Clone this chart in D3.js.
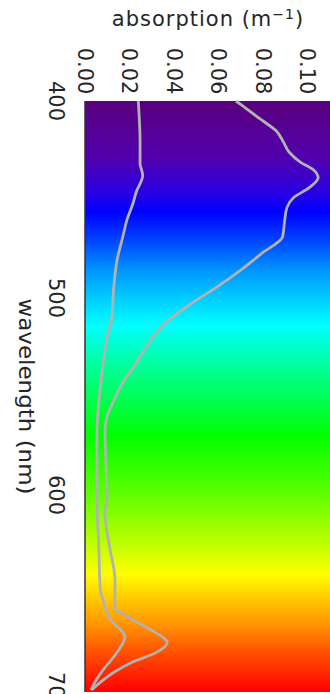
<!DOCTYPE html>
<html>
<head>
<meta charset="utf-8">
<script src="https://cdn.jsdelivr.net/npm/d3@7"></script>
<style>
  html, body { margin: 0; padding: 0; background: #fff; }
  svg { display: block; }
  .lbl { font-family: "DejaVu Sans", sans-serif; font-size: 21px; fill: #262626; }
</style>
</head>
<body>
<div id="chart"></div>
<script>
// wavelength (nm), absorption (m^-1)
const upperWl = [400, 405, 410, 415, 420, 426, 431, 435, 439, 444, 449, 454, 460, 469, 477, 486, 494, 502, 511, 518, 526, 535, 543, 552, 560, 568, 586, 602, 609, 626, 643, 657, 663, 668, 675, 680, 685, 690, 695, 699];
const upperAbs = [0.068, 0.074, 0.080, 0.086, 0.089, 0.092, 0.097, 0.103, 0.105, 0.101, 0.094, 0.091, 0.090, 0.089, 0.080, 0.070, 0.060, 0.049, 0.038, 0.032, 0.027, 0.022, 0.017, 0.013, 0.010, 0.009, 0.0095, 0.0099, 0.009, 0.011, 0.0135, 0.0135, 0.021, 0.029, 0.037, 0.032, 0.021, 0.013, 0.007, 0.003];

const lowerWl = [400, 410, 420, 432, 435, 438, 441, 445, 452, 460, 469, 481, 494, 511, 518, 535, 552, 568, 602, 629, 647, 655, 663, 672, 680, 689, 695, 699];
const lowerAbs = [0.024, 0.0245, 0.0248, 0.0248, 0.0255, 0.026, 0.0252, 0.0235, 0.0216, 0.019, 0.017, 0.0144, 0.013, 0.012, 0.0104, 0.008, 0.0063, 0.0054, 0.0054, 0.0063, 0.0068, 0.0086, 0.0113, 0.018, 0.0144, 0.008, 0.0045, 0.0027];

const wlTicks = [400, 500, 600, 700];
const absTicks = [0.00, 0.02, 0.04, 0.06, 0.08, 0.10];

// spectrum colours behind the plot
const specWl = [400, 430, 448, 456, 470, 485, 500, 514, 530, 548, 570, 600, 625, 640, 655, 665, 680, 700];
const specCol = ['#5a007c', '#5000b0', '#2400e8', '#0000ff', '#0040ff', '#0090ff', '#00ccff', '#00ffff', '#00ffb0', '#00ff60', '#00ff00', '#60ff00', '#c0ff00', '#ffff00', '#ffc000', '#ff9800', '#ff5000', '#ff0000'];

const W = 330, H = 694;
const svg = d3.select('#chart').append('svg').attr('width', W).attr('height', H);

const x = d3.scaleLinear().domain([0, 0.10]).range([85, 307]);
const y = d3.scaleLinear().domain([400, 700]).range([101, 692]);

const grad = svg.append('defs').append('linearGradient')
  .attr('id', 'spec')
  .attr('gradientUnits', 'userSpaceOnUse')
  .attr('x1', 0).attr('x2', 0)
  .attr('y1', y(400)).attr('y2', y(700));
grad.selectAll('stop')
  .data(specWl)
  .enter()
  .append('stop')
  .attr('offset', d => (y(d) - y(400)) / (y(700) - y(400)))
  .attr('stop-color', (d, i) => specCol[i]);

svg.append('rect')
  .attr('x', x(0)).attr('y', y(400))
  .attr('width', W - x(0)).attr('height', y(700) - y(400))
  .attr('fill', 'url(#spec)');

// left frame edge
svg.append('line')
  .attr('x1', x(0)).attr('x2', x(0))
  .attr('y1', y(400)).attr('y2', y(700))
  .attr('stroke', '#333').attr('stroke-width', 1.5);

const line = d3.line()
  .x(d => x(d[1]))
  .y(d => y(d[0]))
  .curve(d3.curveMonotoneY);

[[lowerWl, lowerAbs], [upperWl, upperAbs]].forEach(([wl, ab]) => {
  svg.append('path')
    .datum(wl.map((w, i) => [w, ab[i]]))
    .attr('d', line)
    .attr('fill', 'none')
    .attr('stroke', '#b2b2b2')
    .attr('stroke-width', 2.8)
    .attr('stroke-linejoin', 'round');
});

// absorption tick labels (rotated)
svg.selectAll('.absTick')
  .data(absTicks)
  .enter()
  .append('text')
  .attr('class', 'lbl absTick')
  .attr('transform', d => `translate(${x(d)},71) rotate(90)`)
  .attr('text-anchor', 'middle')
  .attr('dominant-baseline', 'central')
  .text(d => d.toFixed(2));

// wavelength tick labels (rotated)
svg.selectAll('.wlTick')
  .data(wlTicks)
  .enter()
  .append('text')
  .attr('class', 'lbl wlTick')
  .attr('transform', d => `translate(56,${y(d)}) rotate(90)`)
  .attr('text-anchor', 'middle')
  .attr('dominant-baseline', 'central')
  .text(d => d);

// axis titles
const title = svg.append('text')
  .attr('class', 'lbl')
  .attr('x', 208).attr('y', 26)
  .attr('text-anchor', 'middle')
  .style('letter-spacing', '1px');
title.append('tspan').text('absorption (m');
title.append('tspan').attr('dy', -7).style('font-size', '14px').text('\u2212' + '1');
title.append('tspan').attr('dy', 7).text(')');

svg.append('text')
  .attr('class', 'lbl')
  .attr('transform', `translate(26,${(y(400) + y(700)) / 2}) rotate(90)`)
  .attr('text-anchor', 'middle')
  .attr('dominant-baseline', 'central')
  .attr('textLength', 196)
  .attr('lengthAdjust', 'spacingAndGlyphs')
  .text('wavelength (nm)');
</script>
</body>
</html>
